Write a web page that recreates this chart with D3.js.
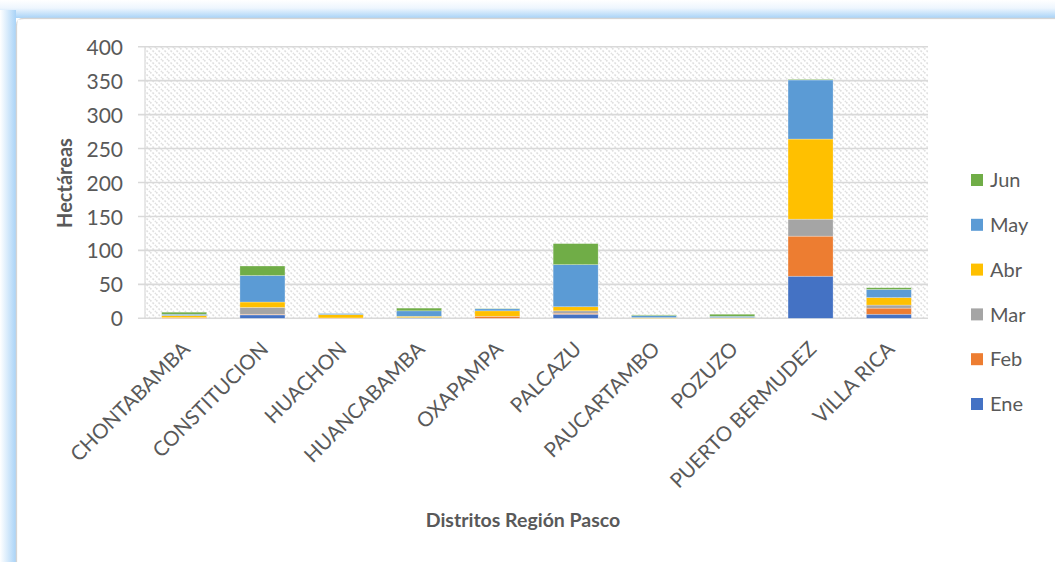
<!DOCTYPE html>
<html>
<head>
<meta charset="utf-8">
<script src="https://cdn.jsdelivr.net/npm/d3@7"></script>
<style>
  body { margin: 0; background: #fff; }
  svg { display: block; font-family: Lato, "Open Sans", sans-serif; }
</style>
</head>
<body>
<svg id="chart" width="1055" height="562"></svg>
<script>
// datos
var distritos = ["CHONTABAMBA", "CONSTITUCION", "HUACHON", "HUANCABAMBA", "OXAPAMPA",
                 "PALCAZU", "PAUCARTAMBO", "POZUZO", "PUERTO BERMUDEZ", "VILLA RICA"];
var meses = ["Ene", "Feb", "Mar", "Abr", "May", "Jun"];
var ene = [0, 5, 0, 1, 0, 6, 0, 0, 62, 6];
var feb = [1, 1, 0.5, 0, 3, 1.5, 0, 0, 59, 9];
var mar = [0, 10, 0, 0, 0, 3.5, 0, 0, 25, 4.5];
var abr = [3, 8, 5, 2, 8, 6, 1, 1, 118, 11];
var may = [2, 39, 1.5, 8, 3, 62, 3, 2, 87, 12];
var jun = [3, 14, 0, 4, 0.5, 31, 1, 3, 1, 2.5];
var yTicks = [0, 50, 100, 150, 200, 250, 300, 350, 400];

var fuente = "Lato, 'Open Sans', sans-serif";

var colores = d3.scaleOrdinal()
  .domain(meses)
  .range(["#4472C4", "#ED7D31", "#A5A5A5", "#FFC000", "#5B9BD5", "#70AD47"]);

var svg = d3.select("#chart");
var width = +svg.attr("width");
var height = +svg.attr("height");

// tabla para el stack
var tabla = distritos.map(function(d, i) {
  return { distrito: d, Ene: ene[i], Feb: feb[i], Mar: mar[i], Abr: abr[i], May: may[i], Jun: jun[i] };
});

var defs = svg.append("defs");

/********* marco azul ************/
var gTop = defs.append("linearGradient").attr("id", "gTop").attr("x1", 0).attr("y1", 0).attr("x2", 0).attr("y2", 1);
gTop.append("stop").attr("offset", "0%").attr("stop-color", "#ffffff");
gTop.append("stop").attr("offset", "45%").attr("stop-color", "#eef6fe");
gTop.append("stop").attr("offset", "100%").attr("stop-color", "#a9d3f7");
var gLeft = defs.append("linearGradient").attr("id", "gLeft").attr("x1", 0).attr("y1", 0).attr("x2", 1).attr("y2", 0);
gLeft.append("stop").attr("offset", "0%").attr("stop-color", "#ffffff");
gLeft.append("stop").attr("offset", "100%").attr("stop-color", "#a9d3f7");

// patron de rayas del area de trazado
var pat = defs.append("pattern")
  .attr("id", "rayas")
  .attr("patternUnits", "userSpaceOnUse")
  .attr("width", 6).attr("height", 6);
pat.append("rect").attr("width", 6).attr("height", 6).attr("fill", "#ffffff");
pat.append("path")
  .attr("d", "M0,0 L6,6 M-3,3 L0,6 M3,-3 L6,0")
  .attr("stroke", "#e0e0e0")
  .attr("stroke-width", 1.6)
  .attr("stroke-dasharray", "2,1.5");

svg.append("rect").attr("x", 0).attr("y", 0).attr("width", width).attr("height", 18).attr("fill", "url(#gTop)");
svg.append("rect").attr("x", 0).attr("y", 10).attr("width", 16).attr("height", height).attr("fill", "url(#gLeft)");
svg.append("path")
  .attr("d", "M16.5," + height + " L16.5,26 Q16.5,18.5 24,18.5 L" + width + ",18.5")
  .attr("fill", "#ffffff")
  .attr("stroke", "#d4d4d4")
  .attr("stroke-width", 1.5);
svg.append("rect").attr("x", 17.5).attr("y", 19.5).attr("width", width).attr("height", height).attr("fill", "#fff");

/********* escalas ************/
var margin = { left: 145, right: 928, top: 46.7, bottom: 318.3 };

var x = d3.scaleBand()
  .domain(distritos)
  .range([margin.left, margin.right])
  .paddingInner(0.425)
  .paddingOuter(0.2125);

var y = d3.scaleLinear()
  .domain([0, 400])
  .range([margin.bottom, margin.top]);

// fondo rayado
svg.append("rect")
  .attr("x", margin.left)
  .attr("y", margin.top)
  .attr("width", margin.right - margin.left)
  .attr("height", margin.bottom - margin.top)
  .attr("fill", "url(#rayas)");

// lineas de la grilla
svg.append("g")
  .selectAll("line")
  .data(yTicks)
  .enter().append("line")
  .attr("x1", margin.left - 7)
  .attr("x2", margin.right)
  .attr("y1", function(d) { return y(d); })
  .attr("y2", function(d) { return y(d); })
  .attr("stroke", "#d9d9d9")
  .attr("stroke-width", 1.6);

svg.append("line")
  .attr("x1", margin.left).attr("x2", margin.left)
  .attr("y1", margin.top).attr("y2", margin.bottom)
  .attr("stroke", "#d9d9d9").attr("stroke-width", 1.2);

// eje y
var ejeY = svg.append("g")
  .attr("transform", "translate(" + (margin.left - 22) + ",0)")
  .call(d3.axisLeft(y).tickValues(yTicks).tickSize(0).tickPadding(0));
ejeY.attr("font-family", fuente).attr("font-size", 21);
ejeY.select(".domain").remove();
ejeY.selectAll("text")
  .attr("fill", "#595959")
  .attr("dy", "0.36em");

/********* barras apiladas ************/
var series = d3.stack().keys(meses)(tabla);

svg.append("g")
  .selectAll("g")
  .data(series)
  .enter().append("g")
  .attr("fill", function(d) { return colores(d.key); })
  .selectAll("rect")
  .data(function(d) { return d; })
  .enter().append("rect")
  .attr("x", function(d) { return x(d.data.distrito); })
  .attr("width", x.bandwidth())
  .attr("y", function(d) { return y(d[1]); })
  .attr("height", function(d) { return Math.max(0, y(d[0]) - y(d[1])); })
  .attr("stroke", "rgba(255,255,255,0.45)")
  .attr("stroke-width", 0.6);

// etiquetas del eje x
var ejeX = svg.append("g")
  .attr("transform", "translate(0," + margin.bottom + ")")
  .call(d3.axisBottom(x).tickSize(0).tickPadding(0));
ejeX.attr("font-family", fuente).attr("font-size", 20.5);
ejeX.select(".domain").remove();
ejeX.selectAll("text")
  .attr("fill", "#595959")
  .attr("text-anchor", "end")
  .attr("y", 0)
  .attr("dy", "0.35em")
  .attr("transform", "translate(2,27) rotate(-45)");

// titulos de los ejes
svg.append("text")
  .attr("transform", "translate(72,183) rotate(-90)")
  .attr("text-anchor", "middle")
  .attr("fill", "#595959")
  .style("font-size", "20px")
  .style("font-weight", "bold")
  .text("Hectáreas");

svg.append("text")
  .attr("x", 523)
  .attr("y", 527)
  .attr("text-anchor", "middle")
  .attr("fill", "#595959")
  .style("font-size", "19.5px")
  .style("font-weight", "bold")
  .text("Distritos Región Pasco");

/********* leyenda ************/
var leyenda = svg.selectAll(".legend")
  .data(meses.slice().reverse())
  .enter().append("g")
  .attr("class", "legend")
  .attr("transform", function(d, i) { return "translate(971," + (180 + i * 44.8) + ")"; });

leyenda.append("rect")
  .attr("x", 0)
  .attr("y", -6)
  .attr("width", 12)
  .attr("height", 12)
  .attr("fill", function(d) { return colores(d); });

leyenda.append("text")
  .attr("x", 19)
  .attr("y", 0)
  .attr("dy", "0.36em")
  .attr("fill", "#595959")
  .style("font-size", "20px")
  .text(function(d) { return d; });
</script>
</body>
</html>
